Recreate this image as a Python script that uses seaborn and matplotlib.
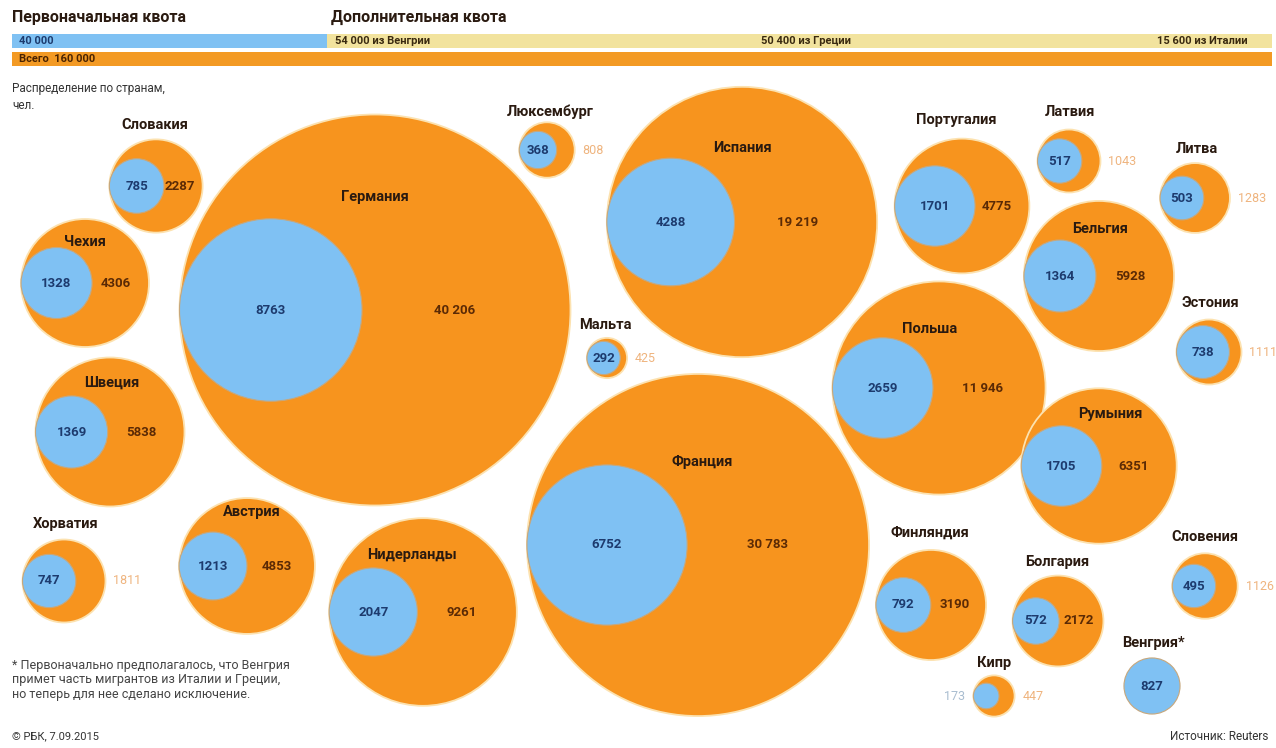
import matplotlib
matplotlib.use("Agg")
import matplotlib.pyplot as plt
import numpy as np
import pandas as pd
import seaborn as sns

# quota bars (people)
quota_initial = 40000
quota_extra = [54000, 50400, 15600]
quota_extra_labels = ["54 000 из Венгрии", "50 400 из Греции", "15 600 из Италии"]
quota_total = 160000

# distribution by country: initial quota (blue) and total (orange)
countries = ["Словакия", "Чехия", "Швеция", "Хорватия", "Австрия", "Нидерланды",
             "Германия", "Люксембург", "Мальта", "Испания", "Франция", "Португалия",
             "Польша", "Финляндия", "Латвия", "Литва", "Бельгия", "Эстония",
             "Румыния", "Словения", "Болгария", "Кипр", "Венгрия*"]
blue_vals = [785, 1328, 1369, 747, 1213, 2047, 8763, 368, 292, 4288, 6752, 1701,
             2659, 792, 517, 503, 1364, 738, 1705, 495, 572, 173, 827]
total_vals = [2287, 4306, 5838, 1811, 4853, 9261, 40206, 808, 425, 19219, 30783, 4775,
              11946, 3190, 1043, 1283, 5928, 1111, 6351, 1126, 2172, 447, np.nan]

# layout (pixel positions of the bubbles and their names)
center_x = [156, 85, 110, 64, 247, 423, 375, 547, 607, 742, 698, 962,
            939, 931, 1069, 1195, 1099, 1209, 1099, 1205, 1058, 994, 1152]
center_y = [186, 283, 432, 581, 566, 612, 310, 150, 358, 222, 545, 206,
            388, 605, 161, 198, 276, 352, 466, 586, 621, 696, 686]
name_x = [155, 85, 112, 66, 252, 412, 375, 550, 605, 742, 702, 956,
          930, 930, 1070, 1197, 1100, 1210, 1110, 1205, 1057, 994, 1153]
name_y = [125, 242, 383, 524, 512, 555, 197, 112, 325, 148, 462, 120,
          329, 533, 112, 149, 229, 303, 414, 537, 562, 663, 643]
outside_labels = {"Хорватия", "Люксембург", "Мальта", "Латвия", "Литва",
                  "Эстония", "Словения", "Кипр"}

W, H, DPI = 1276, 748, 100
K = 0.975  # px of radius per sqrt(person)
S_PER_UNIT = (2 * K * 72 / DPI) ** 2  # marker area (pt^2) per person

BLUE = "#7fc1f3"
ORANGE = "#f7941e"
PALE = "#f2e39e"
ORANGE_BAR = "#f39a24"
NAME_C = "#2a1a10"
BLUE_NUM = "#1d3b6e"
ORANGE_NUM = "#5b2a05"
LIGHT_NUM = "#efb47e"


def fmt(v):
    v = int(v)
    return f"{v:,}".replace(",", " ") if v >= 10000 else str(v)


sns.set_style("white")
plt.rcParams["font.family"] = ["Roboto", "DejaVu Sans"]

df = pd.DataFrame({
    "country": countries, "blue": blue_vals, "total": total_vals,
    "cx": center_x, "cy": center_y, "nx": name_x, "ny": name_y,
})
df["R"] = K * np.sqrt(df["total"])
df["r"] = K * np.sqrt(df["blue"])
df["bx"] = np.where(df["total"].notna(), df["cx"] - df["R"] + df["r"], df["cx"])

fig = plt.figure(figsize=(W / DPI, H / DPI), dpi=DPI)
fig.patch.set_facecolor("white")
ax = fig.add_axes([0, 0, 1, 1])

orange = df.dropna(subset=["total"])
vmax = orange["total"].max()
sns.scatterplot(data=orange, x="cx", y="cy", size="total",
                sizes=(0, S_PER_UNIT * vmax), size_norm=(0, vmax),
                color=ORANGE, edgecolor="#fce2b0", linewidth=1.3,
                legend=False, ax=ax, zorder=2)
bmax = df["blue"].max()
sns.scatterplot(data=df, x="bx", y="cy", size="blue",
                sizes=(0, S_PER_UNIT * bmax), size_norm=(0, bmax),
                color=BLUE, edgecolor="#c7a77c", linewidth=0.8,
                legend=False, ax=ax, zorder=3)

for _, row in df.iterrows():
    ax.text(row["nx"], row["ny"], row["country"], ha="center", va="center",
            fontsize=10.5, fontweight="bold", color=NAME_C, zorder=5)
    if row["country"] == "Кипр":
        ax.text(row["cx"] - row["R"] - 8, row["cy"], fmt(row["blue"]), ha="right",
                va="center", fontsize=9, color="#a9bdd0", zorder=5)
    else:
        ax.text(row["bx"], row["cy"], fmt(row["blue"]), ha="center", va="center",
                fontsize=9.5, fontweight="bold", color=BLUE_NUM, zorder=5)
    if np.isnan(row["total"]):
        continue
    if row["country"] in outside_labels:
        ax.text(row["cx"] + row["R"] + 8, row["cy"], fmt(row["total"]), ha="left",
                va="center", fontsize=9, color=LIGHT_NUM, zorder=5)
    else:
        ax.text(row["cx"] + 0.87 * row["r"], row["cy"], fmt(row["total"]),
                ha="center", va="center", fontsize=9.5, fontweight="bold",
                color=ORANGE_NUM, zorder=5)

ax.text(12, 97, "Распределение по странам,\nчел.", ha="left", va="center",
        fontsize=8.5, color="#333333", linespacing=1.35)
ax.text(12, 680, "* Первоначально предполагалось, что Венгрия\n"
                 "примет часть мигрантов из Италии и Греции,\n"
                 "но теперь для нее сделано исключение.",
        ha="left", va="center", fontsize=9, color="#444444", linespacing=1.15)
ax.text(12, 736, "© РБК, 7.09.2015", ha="left", va="center", fontsize=8, color="#333333")
ax.text(1268, 736, "Источник: Reuters", ha="right", va="center", fontsize=8.5, color="#333333")

ax.set_xlim(0, W)
ax.set_ylim(H, 0)
ax.axis("off")

# header quota bars
bar_ax = fig.add_axes([12 / W, 1 - 68 / H, 1260 / W, 36 / H])
bar_ax.barh(0, quota_initial, left=0, height=0.8, color=BLUE, linewidth=0)
lefts = quota_initial + np.concatenate([[0], np.cumsum(quota_extra)[:-1]])
bar_ax.barh([0] * len(quota_extra), quota_extra, left=lefts, height=0.8,
            color=PALE, linewidth=0)
bar_ax.barh(1, quota_total, left=0, height=0.8, color=ORANGE_BAR, linewidth=0)
bar_ax.annotate("40 000", (0, 0), xytext=(5, 0), textcoords="offset points",
                va="center", fontsize=8, fontweight="bold", color=BLUE_NUM)
for left, lab in zip(lefts, quota_extra_labels):
    bar_ax.annotate(lab, (left, 0), xytext=(6, 0), textcoords="offset points",
                    va="center", fontsize=8, fontweight="bold", color="#3a2a10")
bar_ax.annotate("Всего  " + fmt(quota_total), (0, 1), xytext=(5, 0),
                textcoords="offset points", va="center", fontsize=8,
                fontweight="bold", color="#4a2300")
bar_ax.annotate("Первоначальная квота", (0, -0.5), xytext=(0, 5),
                textcoords="offset points", va="bottom", fontsize=11.5,
                fontweight="bold", color=NAME_C)
bar_ax.annotate("Дополнительная квота", (quota_initial, -0.5), xytext=(3, 5),
                textcoords="offset points", va="bottom", fontsize=11.5,
                fontweight="bold", color=NAME_C)
bar_ax.set_xlim(0, quota_total)
bar_ax.set_ylim(1.5, -0.5)
bar_ax.axis("off")

fig.savefig("out.png", dpi=DPI)
plt.close(fig)
